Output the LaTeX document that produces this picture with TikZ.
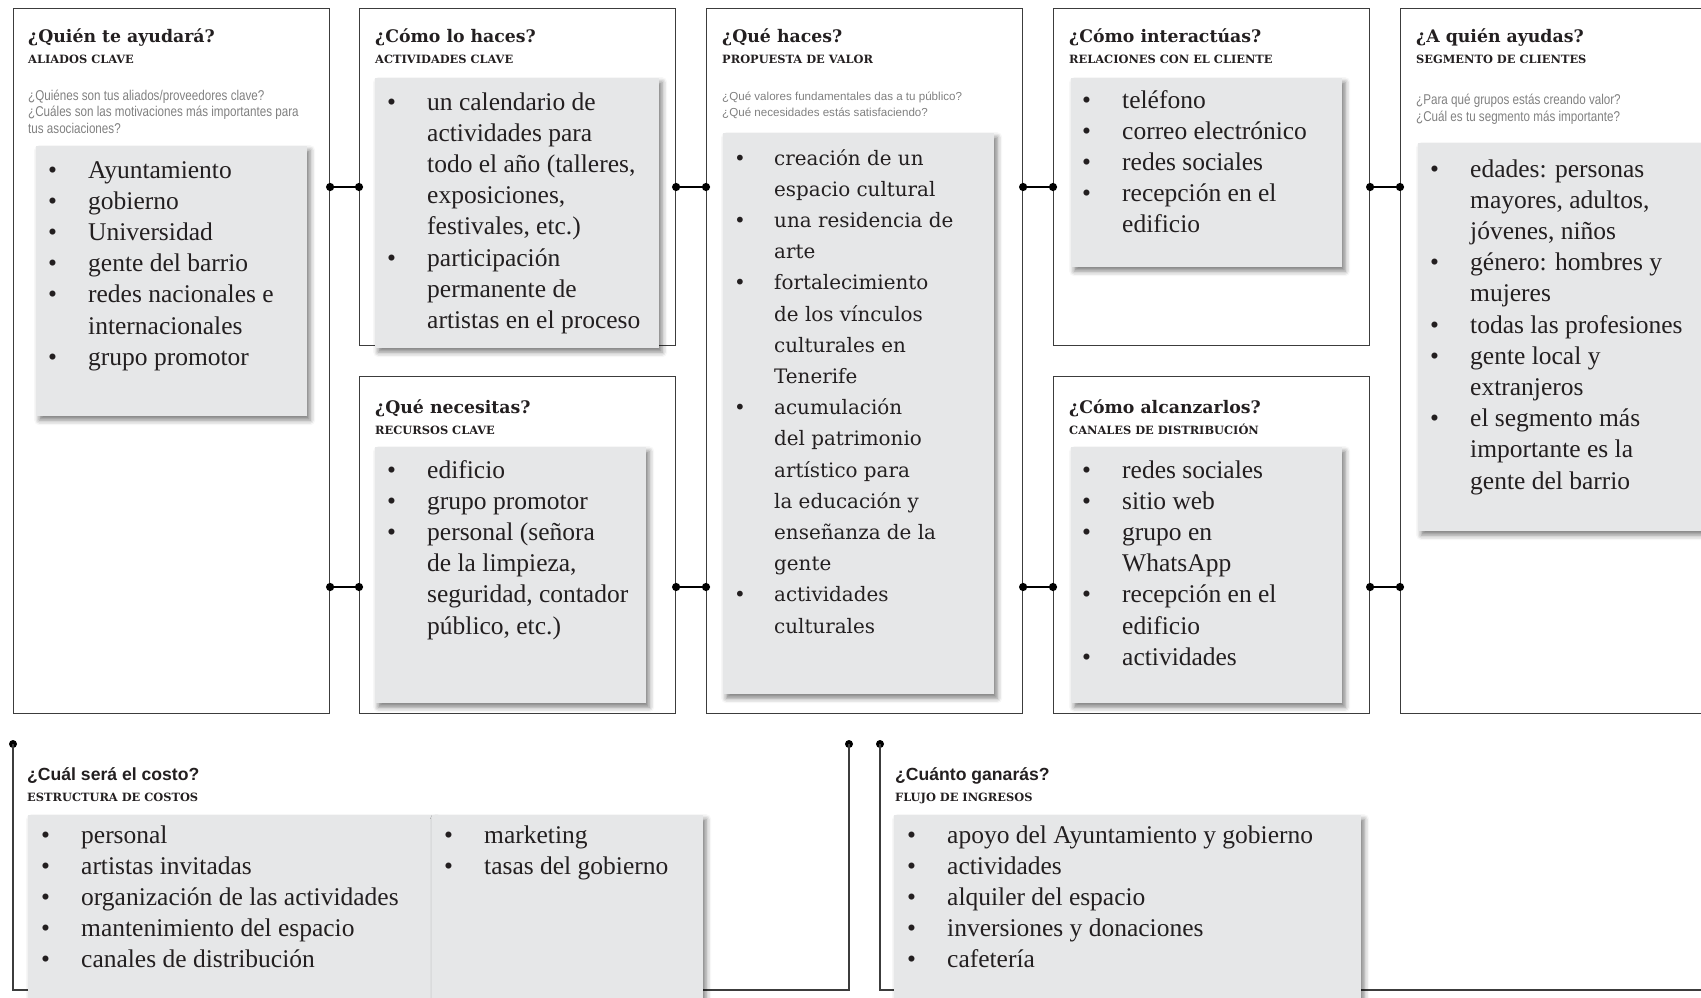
\documentclass[tikz,border=0pt]{standalone}
\usepackage{fontspec}
\setmainfont{Liberation Serif}
\newfontfamily\headfont{DejaVu Serif}
\newfontfamily\wideserif{DejaVu Serif}
\newfontfamily\sansfont{Liberation Sans}
\newfontfamily\condfont[FakeStretch=0.82]{Liberation Sans}
\usetikzlibrary{arrows.meta,shadows.blur}

\definecolor{frame}{RGB}{60,60,60}
\definecolor{cardgray}{RGB}{230,231,232}
\definecolor{askgray}{RGB}{128,128,128}
\definecolor{ink}{RGB}{35,31,32}

\newcommand{\itm}{\textbullet &}

\begin{document}
\begin{tikzpicture}[x=1pt, y=-1pt,
  panel/.style={draw=frame, line width=1.1pt, anchor=north west, inner sep=0pt, minimum width=316pt},
  card/.style={fill=cardgray, anchor=north west, inner sep=0pt,
    blur shadow={shadow xshift=3pt, shadow yshift=-4pt, shadow blur radius=5pt, shadow opacity=50}},
  title/.style={anchor=base west, inner sep=0pt, text=ink, font=\headfont\bfseries\fontsize{17.3}{20}\selectfont},
  sumtitle/.style={anchor=base west, inner sep=0pt, text=ink, font=\sansfont\bfseries\fontsize{17.6}{20}\selectfont},
  tag/.style={anchor=base west, inner sep=0pt, text=ink, font=\headfont\bfseries\fontsize{11.4}{13}\selectfont},
  ask/.style={anchor=base west, inner sep=0pt, text=askgray, font=\condfont\fontsize{14.2}{16.5}\selectfont},
  list/.style={anchor=north west, inner sep=0pt, text=ink, font=\fontsize{25.5}{31.2}\selectfont},
  link/.style={line width=2.6pt, {Circle[length=8pt]}-{Circle[length=8pt]}, shorten <=-4pt, shorten >=-4pt},
  dot/.style={circle, fill=black, inner sep=0pt, minimum size=8pt}
]
\useasboundingbox (0,0) rectangle (1701,998);

% the canvas blocks
\node[panel, minimum height=705pt] (ali) at (13,8) {};
\node[panel, minimum height=337pt] (act) at (359,8) {};
\node[panel, minimum height=337pt] (res) at (359,376) {};
\node[panel, minimum height=705pt] (val) at (706,8) {};
\node[panel, minimum height=337pt] (rel) at (1053,8) {};
\node[panel, minimum height=337pt] (chan) at (1053,376) {};
\node[panel, minimum height=705pt] (seg) at (1400,8) {};

\coordinate (up) at (0,187);
\coordinate (lo) at (0,587);
\foreach \a/\b/\r in {ali/act/up, ali/res/lo, act/val/up, res/val/lo, val/rel/up, val/chan/lo, rel/seg/up, chan/seg/lo}
  \draw[link] (\a.east |- \r) -- (\b.west |- \r);

% bottom strip
\node[dot] (costL) at (13,744) {};
\node[dot] (costR) at (849,744) {};
\node[dot] (revL) at (880,744) {};
\draw[draw=frame, line width=1.1pt] (costL.center) |- (849,990) -- (costR.center);
\draw[draw=frame, line width=1.1pt] (revL.center) |- (1710,990);

% gray cards
\node[card, minimum width=271pt, minimum height=270pt] (gAli) at (36,146) {};
\node[card, minimum width=284pt, minimum height=270pt] (gAct) at (375,78) {};
\node[card, minimum width=271pt, minimum height=256pt] (gRes) at (375,447) {};
\node[card, minimum width=271pt, minimum height=561pt] (gVal) at (723,133) {};
\node[card, minimum width=271pt, minimum height=189pt] (gRel) at (1071,78) {};
\node[card, minimum width=271pt, minimum height=256pt] (gChan) at (1071,447) {};
\node[card, minimum width=300pt, minimum height=388pt] (gSeg) at (1418,143) {};
\node[card, minimum width=406pt, minimum height=200pt] (gCostA) at (28,815) {};
\node[card, minimum width=271pt, minimum height=200pt] (gCostB) at (432,815) {};
\node[card, minimum width=467pt, minimum height=200pt] (gRev) at (894,815) {};

% headings
\node[title] (tAli) at (28,43) {¿Quién te ayudará?};
\node[tag] (sAli) at (28,64) {ALIADOS CLAVE};
\node[title] (tAct) at (375,43) {¿Cómo lo haces?};
\node[tag] (sAct) at (375,64) {ACTIVIDADES CLAVE};
\node[title] (tRes) at (375,413) {¿Qué necesitas?};
\node[tag] (sRes) at (375,434) {RECURSOS CLAVE};
\node[title] (tVal) at (722,43) {¿Qué haces?};
\node[tag] (sVal) at (722,64) {PROPUESTA DE VALOR};
\node[title] (tRel) at (1069,43) {¿Cómo interactúas?};
\node[tag] (sRel) at (1069,64) {RELACIONES CON EL CLIENTE};
\node[title] (tChan) at (1069,413) {¿Cómo alcanzarlos?};
\node[tag] (sChan) at (1069,434) {CANALES DE DISTRIBUCIÓN};
\node[title] (tSeg) at (1416,43) {¿A quién ayudas?};
\node[tag] (sSeg) at (1416,64) {SEGMENTO DE CLIENTES};
\node[sumtitle] (tCost) at (27,780) {¿Cuál será el costo?};
\node[tag] (sCost) at (27,801) {ESTRUCTURA DE COSTOS};
\node[sumtitle] (tRev) at (895,780) {¿Cuánto ganarás?};
\node[tag] (sRev) at (895,801) {FLUJO DE INGRESOS};

% guiding questions
\node[ask] (qAli) at (28,100) {\begin{tabular}[t]{@{}l@{}}
¿Quiénes son tus aliados/proveedores clave?\\
¿Cuáles son las motivaciones más importantes para\\
tus asociaciones?\end{tabular}};
\node[ask, font=\sansfont\fontsize{11.6}{16.5}\selectfont] (qVal) at (722,100) {\begin{tabular}[t]{@{}l@{}}
¿Qué valores fundamentales das a tu público?\\
¿Qué necesidades estás satisfaciendo?\end{tabular}};
\node[ask] (qSeg) at (1416,105) {\begin{tabular}[t]{@{}l@{}}
¿Para qué grupos estás creando valor?\\
¿Cuál es tu segmento más importante?\end{tabular}};

% lists
\node[list] (lAli) at (48,156) {\begin{tabular}{@{}p{40pt}@{}l@{}}
\itm Ayuntamiento\\
\itm gobierno\\
\itm Universidad\\
\itm gente del barrio\\
\itm redes nacionales e\\
& internacionales\\
\itm grupo promotor\end{tabular}};

\node[list] (lAct) at (387,88) {\begin{tabular}{@{}p{40pt}@{}l@{}}
\itm un calendario de\\
& actividades para\\
& todo el año (talleres,\\
& exposiciones,\\
& festivales, etc.)\\
\itm participación\\
& permanente de\\
& artistas en el proceso\end{tabular}};

\node[list] (lRes) at (387,456) {\begin{tabular}{@{}p{40pt}@{}l@{}}
\itm edificio\\
\itm grupo promotor\\
\itm personal (señora\\
& de la limpieza,\\
& seguridad, contador\\
& público, etc.)\end{tabular}};

\node[list, font=\wideserif\fontsize{19.9}{31.2}\selectfont] (lVal) at (734,143) {\begin{tabular}{@{}p{40pt}@{}l@{}}
\itm creación de un\\
& espacio cultural\\
\itm una residencia de\\
& arte\\
\itm fortalecimiento\\
& de los vínculos\\
& culturales en\\
& Tenerife\\
\itm acumulación\\
& del patrimonio\\
& artístico para\\
& la educación y\\
& enseñanza de la\\
& gente\\
\itm actividades\\
& culturales\end{tabular}};

\node[list] (lRel) at (1082,86) {\begin{tabular}{@{}p{40pt}@{}l@{}}
\itm teléfono\\
\itm correo electrónico\\
\itm redes sociales\\
\itm recepción en el\\
& edificio\end{tabular}};

\node[list] (lChan) at (1082,456) {\begin{tabular}{@{}p{40pt}@{}l@{}}
\itm redes sociales\\
\itm sitio web\\
\itm grupo en\\
& WhatsApp\\
\itm recepción en el\\
& edificio\\
\itm actividades\end{tabular}};

\node[list] (lSeg) at (1430,155) {\begin{tabular}{@{}p{40pt}@{}l@{}}
\itm edades: personas\\
& mayores, adultos,\\
& jóvenes, niños\\
\itm género: hombres y\\
& mujeres\\
\itm todas las profesiones\\
\itm gente local y\\
& extranjeros\\
\itm el segmento más\\
& importante es la\\
& gente del barrio\end{tabular}};

\node[list] (lCostA) at (41,821) {\begin{tabular}{@{}p{40pt}@{}l@{}}
\itm personal\\
\itm artistas invitadas\\
\itm organización de las actividades\\
\itm mantenimiento del espacio\\
\itm canales de distribución\end{tabular}};

\node[list] (lCostB) at (444,821) {\begin{tabular}{@{}p{40pt}@{}l@{}}
\itm marketing\\
\itm tasas del gobierno\end{tabular}};

\node[list] (lRev) at (907,821) {\begin{tabular}{@{}p{40pt}@{}l@{}}
\itm apoyo del Ayuntamiento y gobierno\\
\itm actividades\\
\itm alquiler del espacio\\
\itm inversiones y donaciones\\
\itm cafetería\end{tabular}};
\end{tikzpicture}
\end{document}
